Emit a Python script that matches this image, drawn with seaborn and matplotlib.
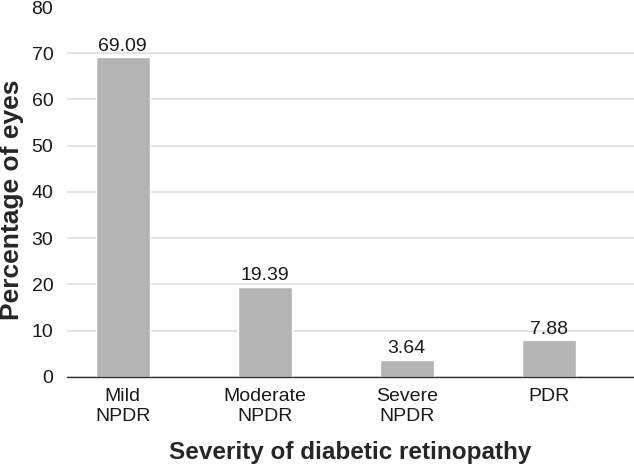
import pandas as pd
import matplotlib
matplotlib.use("Agg")
import matplotlib.pyplot as plt
import seaborn as sns

# Data
categories = ["Mild\nNPDR", "Moderate\nNPDR", "Severe\nNPDR", "PDR"]
percentages = [69.09, 19.39, 3.64, 7.88]

df = pd.DataFrame({"severity": categories, "pct": percentages})

sns.set_theme(style="white")
plt.rcParams["font.family"] = ["Liberation Sans", "DejaVu Sans"]

fig = plt.figure(figsize=(6.34, 4.67), dpi=100)
ax = fig.add_axes([0.106, 0.193, 0.894, 0.792])

sns.barplot(data=df, x="severity", y="pct", color="#b4b4b4", saturation=1,
            width=0.38, ax=ax, zorder=3)

for i, v in enumerate(percentages):
    ax.text(i, v + 1.5, f"{v:.2f}", ha="center", va="baseline", fontsize=14, color="#1a1a1a")

ax.set_ylim(0, 80)
ax.set_xlim(-0.39, 3.60)
ax.set_yticks(range(0, 81, 10))
ax.yaxis.grid(True, color="#dedede", linewidth=1.2, zorder=0)
ax.get_ygridlines()[-1].set_visible(False)
ax.set_axisbelow(True)

for s in ["top", "right", "left"]:
    ax.spines[s].set_visible(False)
ax.spines["bottom"].set_color("#333333")
ax.spines["bottom"].set_linewidth(1.0)
ax.spines["bottom"].set_zorder(4)

ax.tick_params(axis="both", length=0, labelsize=14, colors="#1a1a1a")
ax.tick_params(axis="y", pad=10)
ax.tick_params(axis="x", pad=8)
ax.set_xlabel("Severity of diabetic retinopathy", fontsize=17.5, fontweight="bold", labelpad=12)
ax.set_ylabel("")
fig.text(0.0, 0.572, "Percentage of eyes", rotation=90, ha="left", va="center",
         fontsize=19, fontweight="bold")

fig.savefig("out.png", dpi=100)
